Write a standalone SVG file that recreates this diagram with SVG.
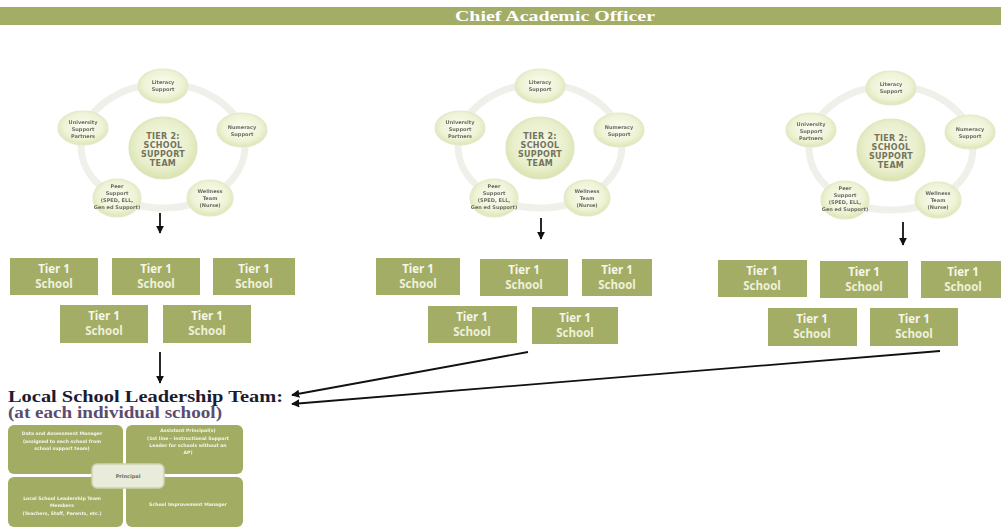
<svg xmlns="http://www.w3.org/2000/svg" width="1001" height="527" viewBox="0 0 1001 527">
  <defs>
    <style>
      .bar { fill: #a3ad66; }
      .title { font-family: "Liberation Serif", serif; font-weight: bold; font-size: 15px; fill: #ffffff; }
      .ring { fill: none; stroke: #f0f0eb; stroke-width: 7; }
      .bub { fill: url(#bubFill); stroke: #e4e9cc; stroke-width: 1.2; filter: url(#soft); }
      .ctr { fill: url(#ctrFill); stroke: #dfe5c2; stroke-width: 1.2; filter: url(#soft); }
      .btxt { font-family: "DejaVu Sans", sans-serif; font-size: 5px; font-weight: bold; fill: #6d6d62; text-anchor: middle; filter: url(#smear); }
      .ctxt { font-family: "DejaVu Sans", sans-serif; font-size: 8px; font-weight: bold; fill: #74745c; text-anchor: middle; letter-spacing: 0.3px; }
      .box { fill: #a3ad66; }
      .t1 { font-family: "Open Sans", sans-serif; font-weight: bold; font-size: 11.5px; fill: #f6f6ea; text-anchor: middle; }
      .t2 { font-family: "Open Sans", sans-serif; font-weight: bold; font-size: 11.5px; fill: #eef0da; text-anchor: middle; }
      .conn { stroke: #111111; stroke-width: 1.8; fill: none; }
      .lead1 { font-family: "Liberation Serif", serif; font-weight: bold; font-size: 16px; fill: #1b1b33; }
      .lead2 { font-family: "Liberation Serif", serif; font-weight: bold; font-size: 16px; fill: #5b4d6e; }
      .quad { fill: #a2ad63; }
      .qtxt { font-family: "DejaVu Sans", sans-serif; font-size: 4.6px; font-weight: bold; fill: #f4f4ea; text-anchor: middle; filter: url(#smear); }
      .mid { fill: #e9ebdb; stroke: #cdd3ae; stroke-width: 1.5; }
      .mtxt { font-family: "DejaVu Sans", sans-serif; font-size: 5px; font-weight: bold; fill: #6e6e58; text-anchor: middle; }
    </style>
    <radialGradient id="bubFill" cx="50%" cy="45%" r="55%">
      <stop offset="0" stop-color="#fbfcf3"/>
      <stop offset="0.7" stop-color="#eef3d6"/>
      <stop offset="1" stop-color="#dce6b4"/>
    </radialGradient>
    <radialGradient id="ctrFill" cx="50%" cy="45%" r="55%">
      <stop offset="0" stop-color="#f7f9ea"/>
      <stop offset="0.7" stop-color="#e9efcc"/>
      <stop offset="1" stop-color="#d9e3ae"/>
    </radialGradient>
    <filter id="soft" x="-20%" y="-20%" width="140%" height="140%">
      <feGaussianBlur stdDeviation="0.4"/>
    </filter>
    <filter id="smear" x="-10%" y="-40%" width="120%" height="180%">
      <feGaussianBlur stdDeviation="0.35"/>
    </filter>
    <marker id="head" viewBox="0 0 10 10" refX="9" refY="5" markerWidth="4.5" markerHeight="4.5" orient="auto-start-reverse">
      <path d="M0,0 L10,5 L0,10 z" fill="#111111"/>
    </marker>
    <!-- one support-team cycle, drawn around (0,0) = centre circle -->
    <g id="cycle">
      <ellipse class="ring" cx="0" cy="-2" rx="82" ry="62"/>
      <ellipse class="ctr" cx="0" cy="0" rx="34" ry="31"/>
      <text class="ctxt" x="0" y="-9">TIER 2:</text>
      <text class="ctxt" x="0" y="0">SCHOOL</text>
      <text class="ctxt" x="0" y="9">SUPPORT</text>
      <text class="ctxt" x="0" y="18">TEAM</text>
      <ellipse class="bub" cx="0" cy="-62" rx="25" ry="17"/>
      <text class="btxt" x="0" y="-64">Literacy</text>
      <text class="btxt" x="0" y="-57">Support</text>
      <ellipse class="bub" cx="79" cy="-18" rx="25" ry="17"/>
      <text class="btxt" x="79" y="-19">Numeracy</text>
      <text class="btxt" x="79" y="-12">Support</text>
      <ellipse class="bub" cx="-80" cy="-20" rx="25" ry="17"/>
      <text class="btxt" x="-80" y="-24">University</text>
      <text class="btxt" x="-80" y="-17">Support</text>
      <text class="btxt" x="-80" y="-10">Partners</text>
      <ellipse class="bub" cx="-46" cy="50" rx="24" ry="19"/>
      <text class="btxt" x="-46" y="40">Peer</text>
      <text class="btxt" x="-46" y="47">Support</text>
      <text class="btxt" x="-46" y="54">(SPED, ELL,</text>
      <text class="btxt" x="-46" y="61">Gen ed Support)</text>
      <ellipse class="bub" cx="47" cy="50" rx="23" ry="18"/>
      <text class="btxt" x="47" y="45">Wellness</text>
      <text class="btxt" x="47" y="52">Team</text>
      <text class="btxt" x="47" y="59">(Nurse)</text>
    </g>
  </defs>

  <rect width="1001" height="527" fill="#ffffff"/>

  <!-- top banner -->
  <g id="chief">
    <rect class="bar" x="0" y="7" width="1001" height="18"/>
    <text class="title" x="455" y="21" textLength="200" lengthAdjust="spacingAndGlyphs">Chief Academic Officer</text>
  </g>

  <!-- Tier 2 support teams -->
  <g id="team1"><use href="#cycle" x="163" y="148"/></g>
  <g id="team2"><use href="#cycle" x="540" y="148"/></g>
  <g id="team3"><use href="#cycle" x="891" y="150"/></g>

  <!-- Tier 1 schools, group 1 -->
  <g id="g1s1"><rect class="box" x="10" y="258" width="88" height="37"/><text class="t1" x="54" y="273">Tier 1</text><text class="t2" x="54" y="288">School</text></g>
  <g id="g1s2"><rect class="box" x="112" y="258" width="88" height="37"/><text class="t1" x="156" y="273">Tier 1</text><text class="t2" x="156" y="288">School</text></g>
  <g id="g1s3"><rect class="box" x="213" y="258" width="82" height="37"/><text class="t1" x="254" y="273">Tier 1</text><text class="t2" x="254" y="288">School</text></g>
  <g id="g1s4"><rect class="box" x="60" y="305" width="88" height="38"/><text class="t1" x="104" y="320">Tier 1</text><text class="t2" x="104" y="335">School</text></g>
  <g id="g1s5"><rect class="box" x="163" y="305" width="88" height="38"/><text class="t1" x="207" y="320">Tier 1</text><text class="t2" x="207" y="335">School</text></g>

  <!-- Tier 1 schools, group 2 -->
  <g id="g2s1"><rect class="box" x="376" y="258" width="84" height="37"/><text class="t1" x="418" y="273">Tier 1</text><text class="t2" x="418" y="288">School</text></g>
  <g id="g2s2"><rect class="box" x="480" y="259" width="88" height="37"/><text class="t1" x="524" y="274">Tier 1</text><text class="t2" x="524" y="289">School</text></g>
  <g id="g2s3"><rect class="box" x="582" y="259" width="70" height="37"/><text class="t1" x="617" y="274">Tier 1</text><text class="t2" x="617" y="289">School</text></g>
  <g id="g2s4"><rect class="box" x="428" y="306" width="89" height="37"/><text class="t1" x="472" y="321">Tier 1</text><text class="t2" x="472" y="336">School</text></g>
  <g id="g2s5"><rect class="box" x="532" y="307" width="86" height="37"/><text class="t1" x="575" y="322">Tier 1</text><text class="t2" x="575" y="337">School</text></g>

  <!-- Tier 1 schools, group 3 -->
  <g id="g3s1"><rect class="box" x="718" y="260" width="89" height="37"/><text class="t1" x="762" y="275">Tier 1</text><text class="t2" x="762" y="290">School</text></g>
  <g id="g3s2"><rect class="box" x="820" y="261" width="88" height="37"/><text class="t1" x="864" y="276">Tier 1</text><text class="t2" x="864" y="291">School</text></g>
  <g id="g3s3"><rect class="box" x="921" y="261" width="80" height="37"/><text class="t1" x="963" y="276">Tier 1</text><text class="t2" x="963" y="291">School</text></g>
  <g id="g3s4"><rect class="box" x="768" y="308" width="89" height="38"/><text class="t1" x="812" y="323">Tier 1</text><text class="t2" x="812" y="338">School</text></g>
  <g id="g3s5"><rect class="box" x="870" y="308" width="88" height="38"/><text class="t1" x="914" y="323">Tier 1</text><text class="t2" x="914" y="338">School</text></g>

  <!-- connectors -->
  <g id="connectors">
    <line class="conn" x1="160" y1="213" x2="160" y2="233" marker-end="url(#head)"/>
    <line class="conn" x1="541" y1="218" x2="541" y2="239" marker-end="url(#head)"/>
    <line class="conn" x1="903" y1="222" x2="903" y2="245" marker-end="url(#head)"/>
    <line class="conn" x1="160" y1="352" x2="160" y2="383" marker-end="url(#head)"/>
    <line class="conn" x1="528" y1="352" x2="292" y2="395" marker-end="url(#head)"/>
    <line class="conn" x1="940" y1="351" x2="292" y2="404" marker-end="url(#head)"/>
  </g>

  <!-- local school leadership team -->
  <g id="leadership">
    <text class="lead1" x="8" y="402" textLength="275" lengthAdjust="spacingAndGlyphs">Local School Leadership Team:</text>
    <text class="lead2" x="8" y="418" textLength="214" lengthAdjust="spacingAndGlyphs">(at each individual school)</text>
  </g>

  <g id="matrix">
    <rect class="quad" x="8" y="425" width="115" height="49" rx="6"/>
    <rect class="quad" x="126" y="425" width="117" height="49" rx="6"/>
    <rect class="quad" x="8" y="477" width="115" height="50" rx="6"/>
    <rect class="quad" x="126" y="477" width="117" height="50" rx="6"/>
    <text class="qtxt" x="62" y="435">Data and Assessment Manager</text>
    <text class="qtxt" x="62" y="443">(assigned to each school from</text>
    <text class="qtxt" x="62" y="450">school support team)</text>
    <text class="qtxt" x="188" y="432">Assistant Principal(s)</text>
    <text class="qtxt" x="188" y="440">(1st line - Instructional Support</text>
    <text class="qtxt" x="188" y="447">Leader for schools without an</text>
    <text class="qtxt" x="188" y="454">AP)</text>
    <text class="qtxt" x="62" y="500">Local School Leadership Team</text>
    <text class="qtxt" x="62" y="507">Members</text>
    <text class="qtxt" x="62" y="515">(Teachers, Staff, Parents, etc.)</text>
    <text class="qtxt" x="188" y="506">School Improvement Manager</text>
    <rect class="mid" x="92" y="464" width="72" height="24" rx="5"/>
    <text class="mtxt" x="128" y="478">Principal</text>
  </g>
</svg>
